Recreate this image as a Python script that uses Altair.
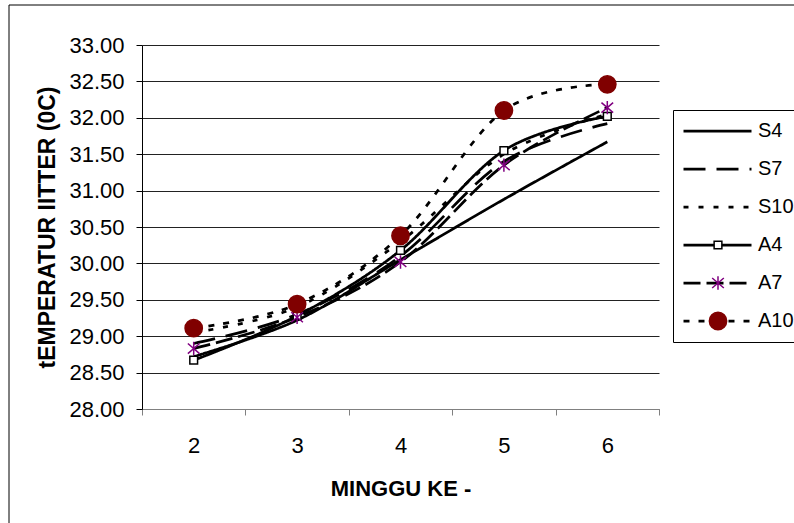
import altair as alt
import pandas as pd

weeks = [2, 3, 4, 5, 6]
series_names = ["S4", "S7", "S10", "A4", "A7", "A10"]
S4 = [28.72, 29.22, 30.05, 30.88, 31.67]
S7 = [28.90, 29.30, 30.10, 31.40, 31.92]
S10 = [29.05, 29.40, 30.30, 31.50, 32.05]
A4 = [28.67, 29.28, 30.18, 31.55, 32.02]
A7 = [28.83, 29.26, 30.02, 31.35, 32.14]
A10 = [29.11, 29.44, 30.38, 32.10, 32.46]
y_ticks = [28.0, 28.5, 29.0, 29.5, 30.0, 30.5, 31.0, 31.5, 32.0, 32.5, 33.0]

values = {"S4": S4, "S7": S7, "S10": S10, "A4": A4, "A7": A7, "A10": A10}
rows = []
for name in series_names:
    for w, v in zip(weeks, values[name]):
        rows.append({"series": name, "week": w, "value": v})
df = pd.DataFrame(rows)
marker_names = ["A4", "A7", "A10"]
df_m = df[df["series"].isin(marker_names)]

FONT = "Liberation Sans"
STAR = "M0,-1L0,1M-0.87,-0.75L0.87,0.75M-0.87,0.75L0.87,-0.75"

dashes = [[1, 0], [22, 11], [5, 10], [1, 0], [17, 6], [6, 9]]

x_enc = alt.X("week:O", scale=alt.Scale(type="band", paddingInner=0, paddingOuter=0),
              axis=alt.Axis(title="MINGGU KE -", labelAngle=0, tickBand="extent",
                            labelFontSize=22, labelPadding=20, tickSize=6,
                            domainColor="#808080", tickColor="#808080",
                            titleFontSize=22, titleFontWeight="bold", titlePadding=22,
                            labelColor="black", titleColor="black", grid=False))
y_enc = alt.Y("value:Q", scale=alt.Scale(domain=[28, 33], nice=False, zero=False),
              axis=alt.Axis(title="tEMPERATUR IITTER (0C)", values=y_ticks, tickCount=11,
                            format=".2f", labelOverlap=False,
                            labelFontSize=22, labelPadding=12, tickSize=6,
                            domainColor="black", tickColor="black", grid=True,
                            gridColor="#222222", gridWidth=1,
                            titleFontSize=23, titleFontWeight="bold", titlePadding=9,
                            labelColor="black", titleColor="black"))

lines = alt.Chart(df).mark_line(interpolate="cardinal", strokeWidth=2.75, color="black").encode(
    x=x_enc, y=y_enc,
    strokeDash=alt.StrokeDash("series:N", sort=series_names,
                              scale=alt.Scale(domain=series_names, range=dashes),
                              legend=alt.Legend(title=None, orient="none", legendX=531, legendY=65,
                                                symbolType="stroke", symbolSize=4624,
                                                symbolStrokeWidth=2.75, symbolStrokeColor="black",
                                                symbolOffset=7, labelOffset=5, padding=2,
                                                clipHeight=38, rowPadding=0,
                                                labelFontSize=20, labelFont=FONT, labelColor="black",
                                                strokeColor="black", fillColor="white")),
)

leg2 = dict(title=None, orient="none", legendX=566, legendY=181, padding=0, clipHeight=38,
            rowPadding=0, symbolOffset=0, labelExpr="''", labelFontSize=20,
            symbolStrokeWidth=1.5, symbolOpacity=1)

points = alt.Chart(df_m).mark_point(filled=True, strokeWidth=1.5, opacity=1).encode(
    x=x_enc, y=y_enc,
    shape=alt.Shape("series:N", scale=alt.Scale(domain=marker_names, range=["square", STAR, "circle"]),
                    legend=alt.Legend(**leg2)),
    fill=alt.Fill("series:N", scale=alt.Scale(domain=marker_names, range=["white", "transparent", "#800000"]),
                  legend=alt.Legend(**leg2)),
    stroke=alt.Stroke("series:N", scale=alt.Scale(domain=marker_names, range=["black", "#800080", "#800000"]),
                      legend=alt.Legend(**leg2)),
    size=alt.Size("series:N", scale=alt.Scale(domain=marker_names, range=[60, 300, 200]),
                  legend=alt.Legend(**leg2)),
)

frame_df = pd.DataFrame({"k": [0]})
frame = alt.Chart(frame_df).mark_rect(filled=False, stroke="black", strokeWidth=1).encode(
    x=alt.value(-133), x2=alt.value(700), y=alt.value(-40), y2=alt.value(500))

chart = alt.layer(frame, lines, points).properties(
    width=517, height=364,
    autosize=alt.AutoSizeParams(type="none"),
    padding={"left": 142, "top": 45, "right": 135, "bottom": 114},
).configure(font=FONT).configure_view(stroke=None)

chart.save("out.html", embed_options={"renderer": "svg", "actions": False})
